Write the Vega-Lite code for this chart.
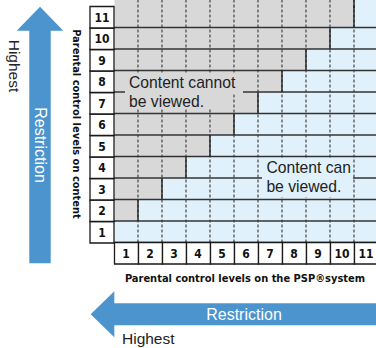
{
  "$schema": "https://vega.github.io/schema/vega-lite/v6.json",
  "width": 376,
  "height": 348,
  "padding": 0,
  "autosize": {"type": "none"},
  "config": {"view": {"stroke": null}, "axis": {"disable": true}, "legend": {"disable": true}},
  "data": {"values": [{}]},
  "datasets": {
    "levels": [{"level":1},{"level":2},{"level":3},{"level":4},{"level":5},{"level":6},{"level":7},{"level":8},{"level":9},{"level":10},{"level":11}],
    "cells": [
      {"s":1,"c":1,"v":"can"},{"s":2,"c":1,"v":"can"},{"s":3,"c":1,"v":"can"},{"s":4,"c":1,"v":"can"},{"s":5,"c":1,"v":"can"},{"s":6,"c":1,"v":"can"},{"s":7,"c":1,"v":"can"},{"s":8,"c":1,"v":"can"},{"s":9,"c":1,"v":"can"},{"s":10,"c":1,"v":"can"},{"s":11,"c":1,"v":"can"},
      {"s":1,"c":2,"v":"cannot"},{"s":2,"c":2,"v":"can"},{"s":3,"c":2,"v":"can"},{"s":4,"c":2,"v":"can"},{"s":5,"c":2,"v":"can"},{"s":6,"c":2,"v":"can"},{"s":7,"c":2,"v":"can"},{"s":8,"c":2,"v":"can"},{"s":9,"c":2,"v":"can"},{"s":10,"c":2,"v":"can"},{"s":11,"c":2,"v":"can"},
      {"s":1,"c":3,"v":"cannot"},{"s":2,"c":3,"v":"cannot"},{"s":3,"c":3,"v":"can"},{"s":4,"c":3,"v":"can"},{"s":5,"c":3,"v":"can"},{"s":6,"c":3,"v":"can"},{"s":7,"c":3,"v":"can"},{"s":8,"c":3,"v":"can"},{"s":9,"c":3,"v":"can"},{"s":10,"c":3,"v":"can"},{"s":11,"c":3,"v":"can"},
      {"s":1,"c":4,"v":"cannot"},{"s":2,"c":4,"v":"cannot"},{"s":3,"c":4,"v":"cannot"},{"s":4,"c":4,"v":"can"},{"s":5,"c":4,"v":"can"},{"s":6,"c":4,"v":"can"},{"s":7,"c":4,"v":"can"},{"s":8,"c":4,"v":"can"},{"s":9,"c":4,"v":"can"},{"s":10,"c":4,"v":"can"},{"s":11,"c":4,"v":"can"},
      {"s":1,"c":5,"v":"cannot"},{"s":2,"c":5,"v":"cannot"},{"s":3,"c":5,"v":"cannot"},{"s":4,"c":5,"v":"cannot"},{"s":5,"c":5,"v":"can"},{"s":6,"c":5,"v":"can"},{"s":7,"c":5,"v":"can"},{"s":8,"c":5,"v":"can"},{"s":9,"c":5,"v":"can"},{"s":10,"c":5,"v":"can"},{"s":11,"c":5,"v":"can"},
      {"s":1,"c":6,"v":"cannot"},{"s":2,"c":6,"v":"cannot"},{"s":3,"c":6,"v":"cannot"},{"s":4,"c":6,"v":"cannot"},{"s":5,"c":6,"v":"cannot"},{"s":6,"c":6,"v":"can"},{"s":7,"c":6,"v":"can"},{"s":8,"c":6,"v":"can"},{"s":9,"c":6,"v":"can"},{"s":10,"c":6,"v":"can"},{"s":11,"c":6,"v":"can"},
      {"s":1,"c":7,"v":"cannot"},{"s":2,"c":7,"v":"cannot"},{"s":3,"c":7,"v":"cannot"},{"s":4,"c":7,"v":"cannot"},{"s":5,"c":7,"v":"cannot"},{"s":6,"c":7,"v":"cannot"},{"s":7,"c":7,"v":"can"},{"s":8,"c":7,"v":"can"},{"s":9,"c":7,"v":"can"},{"s":10,"c":7,"v":"can"},{"s":11,"c":7,"v":"can"},
      {"s":1,"c":8,"v":"cannot"},{"s":2,"c":8,"v":"cannot"},{"s":3,"c":8,"v":"cannot"},{"s":4,"c":8,"v":"cannot"},{"s":5,"c":8,"v":"cannot"},{"s":6,"c":8,"v":"cannot"},{"s":7,"c":8,"v":"cannot"},{"s":8,"c":8,"v":"can"},{"s":9,"c":8,"v":"can"},{"s":10,"c":8,"v":"can"},{"s":11,"c":8,"v":"can"},
      {"s":1,"c":9,"v":"cannot"},{"s":2,"c":9,"v":"cannot"},{"s":3,"c":9,"v":"cannot"},{"s":4,"c":9,"v":"cannot"},{"s":5,"c":9,"v":"cannot"},{"s":6,"c":9,"v":"cannot"},{"s":7,"c":9,"v":"cannot"},{"s":8,"c":9,"v":"cannot"},{"s":9,"c":9,"v":"can"},{"s":10,"c":9,"v":"can"},{"s":11,"c":9,"v":"can"},
      {"s":1,"c":10,"v":"cannot"},{"s":2,"c":10,"v":"cannot"},{"s":3,"c":10,"v":"cannot"},{"s":4,"c":10,"v":"cannot"},{"s":5,"c":10,"v":"cannot"},{"s":6,"c":10,"v":"cannot"},{"s":7,"c":10,"v":"cannot"},{"s":8,"c":10,"v":"cannot"},{"s":9,"c":10,"v":"cannot"},{"s":10,"c":10,"v":"can"},{"s":11,"c":10,"v":"can"},
      {"s":1,"c":11,"v":"cannot"},{"s":2,"c":11,"v":"cannot"},{"s":3,"c":11,"v":"cannot"},{"s":4,"c":11,"v":"cannot"},{"s":5,"c":11,"v":"cannot"},{"s":6,"c":11,"v":"cannot"},{"s":7,"c":11,"v":"cannot"},{"s":8,"c":11,"v":"cannot"},{"s":9,"c":11,"v":"cannot"},{"s":10,"c":11,"v":"cannot"},{"s":11,"c":11,"v":"can"}
    ]
  },
  "layer": [
    {
      "data": {"name": "cells"},
      "mark": {"type": "rect"},
      "encoding": {
        "x": {"field": "s", "type": "quantitative", "bin": {"step": 1, "extent": [-0.5, 11.5], "nice": false}, "scale": {"domain": [-4.25, 11.4167], "nice": false, "zero": false}},
        "y": {"field": "c", "type": "quantitative", "bin": {"step": 1, "extent": [-0.5, 11.5], "nice": false}, "scale": {"domain": [-4.407, 11.779], "nice": false, "zero": false}},
        "color": {"field": "v", "type": "nominal", "scale": {"domain": ["cannot", "can"], "range": ["#d8d8d8", "#e0f1fb"]}}
      }
    },
    {
      "data": {"name": "cells"},
      "transform": [{"filter": "datum.c == 11"}],
      "mark": {"type": "rect"},
      "encoding": {
        "x": {"field": "s", "type": "quantitative", "bin": {"step": 1, "extent": [-0.5, 11.5], "nice": false}, "scale": {"domain": [-4.25, 11.4167], "nice": false, "zero": false}},
        "y": {"datum": 11.4, "type": "quantitative", "scale": {"domain": [-4.407, 11.779], "nice": false, "zero": false}},
        "y2": {"datum": 11.8},
        "color": {"field": "v", "type": "nominal", "scale": {"domain": ["cannot", "can"], "range": ["#d8d8d8", "#e0f1fb"]}}
      }
    },
    {
      "data": {"name": "levels"},
      "mark": {"type": "rule", "yOffset": 10.75, "y2Offset": 10.75, "color": "#333333", "strokeWidth": 1.3},
      "encoding": {
        "y": {"field": "level", "type": "quantitative", "scale": {"domain": [-4.407, 11.779], "nice": false, "zero": false}},
        "x": {"datum": 0.5, "type": "quantitative", "scale": {"domain": [-4.25, 11.4167], "nice": false, "zero": false}},
        "x2": {"datum": 11.5}
      }
    },
    {
      "data": {"name": "levels"},
      "transform": [{"filter": "datum.level <= 10"}],
      "mark": {"type": "rule", "xOffset": 12, "x2Offset": 12, "color": "#333333", "strokeWidth": 1.1, "strokeDash": [3, 2]},
      "encoding": {
        "x": {"field": "level", "type": "quantitative", "scale": {"domain": [-4.25, 11.4167], "nice": false, "zero": false}},
        "y": {"datum": 0.5, "type": "quantitative", "scale": {"domain": [-4.407, 11.779], "nice": false, "zero": false}},
        "y2": {"datum": 11.8}
      }
    },
    {
      "data": {"name": "levels"},
      "transform": [{"filter": "datum.level >= 2"}],
      "mark": {"type": "rule", "xOffset": -12, "x2Offset": -12, "yOffset": 10.75, "y2Offset": -10.75, "color": "#222222", "strokeWidth": 1.4},
      "encoding": {
        "x": {"field": "level", "type": "quantitative", "scale": {"domain": [-4.25, 11.4167], "nice": false, "zero": false}},
        "y": {"field": "level", "type": "quantitative", "scale": {"domain": [-4.407, 11.779], "nice": false, "zero": false}},
        "y2": {"field": "level"}
      }
    },
    {
      "data": {"name": "levels"},
      "transform": [{"filter": "datum.level == 11"}],
      "mark": {"type": "rule", "xOffset": -12, "x2Offset": -12, "color": "#222222", "strokeWidth": 1.4},
      "encoding": {
        "x": {"field": "level", "type": "quantitative", "scale": {"domain": [-4.25, 11.4167], "nice": false, "zero": false}},
        "y": {"datum": 11.4, "type": "quantitative", "scale": {"domain": [-4.407, 11.779], "nice": false, "zero": false}},
        "y2": {"datum": 11.8}
      }
    },
    {
      "data": {"name": "levels"},
      "mark": {"type": "rect", "fill": "#ffffff", "stroke": "#1a1a1a", "strokeWidth": 1.3},
      "encoding": {
        "x": {"datum": -0.5, "type": "quantitative", "scale": {"domain": [-4.25, 11.4167], "nice": false, "zero": false}},
        "x2": {"datum": 0.5},
        "y": {"field": "level", "type": "quantitative", "bin": {"step": 1, "extent": [-0.5, 11.5], "nice": false}, "scale": {"domain": [-4.407, 11.779], "nice": false, "zero": false}}
      }
    },
    {
      "data": {"name": "levels"},
      "mark": {"type": "rect", "fill": "#ffffff", "stroke": "#1a1a1a", "strokeWidth": 1.3},
      "encoding": {
        "x": {"field": "level", "type": "quantitative", "bin": {"step": 1, "extent": [-0.5, 11.5], "nice": false}, "scale": {"domain": [-4.25, 11.4167], "nice": false, "zero": false}},
        "y": {"datum": -0.5, "type": "quantitative", "scale": {"domain": [-4.407, 11.779], "nice": false, "zero": false}},
        "y2": {"datum": 0.5}
      }
    },
    {
      "data": {"name": "levels"},
      "mark": {"type": "text", "font": "DejaVu Sans Condensed, Liberation Sans, sans-serif", "fontWeight": "bold", "fontSize": 12, "align": "center", "baseline": "middle", "color": "#111111", "dy": 1},
      "encoding": {
        "x": {"datum": 0, "type": "quantitative", "scale": {"domain": [-4.25, 11.4167], "nice": false, "zero": false}},
        "y": {"field": "level", "type": "quantitative", "scale": {"domain": [-4.407, 11.779], "nice": false, "zero": false}},
        "text": {"field": "level", "type": "quantitative"}
      }
    },
    {
      "data": {"name": "levels"},
      "mark": {"type": "text", "font": "DejaVu Sans Condensed, Liberation Sans, sans-serif", "fontWeight": "bold", "fontSize": 12, "align": "center", "baseline": "middle", "color": "#111111", "dy": 1},
      "encoding": {
        "x": {"field": "level", "type": "quantitative", "scale": {"domain": [-4.25, 11.4167], "nice": false, "zero": false}},
        "y": {"datum": 0, "type": "quantitative", "scale": {"domain": [-4.407, 11.779], "nice": false, "zero": false}},
        "text": {"field": "level", "type": "quantitative"}
      }
    },
    {
      "mark": {"type": "rect", "fill": "#d8d8d8"},
      "encoding": {
        "x": {"datum": 0.958, "type": "quantitative", "scale": {"domain": [-4.25, 11.4167], "nice": false, "zero": false}},
        "x2": {"datum": 5.875},
        "y": {"datum": 8.384, "type": "quantitative", "scale": {"domain": [-4.407, 11.779], "nice": false, "zero": false}},
        "y2": {"datum": 7.453}
      }
    },
    {
      "mark": {"type": "rect", "fill": "#d8d8d8"},
      "encoding": {
        "x": {"datum": 0.958, "type": "quantitative", "scale": {"domain": [-4.25, 11.4167], "nice": false, "zero": false}},
        "x2": {"datum": 5.333},
        "y": {"datum": 7.5, "type": "quantitative", "scale": {"domain": [-4.407, 11.779], "nice": false, "zero": false}},
        "y2": {"datum": 6.709}
      }
    },
    {
      "mark": {"type": "rect", "fill": "#e0f1fb"},
      "encoding": {
        "x": {"datum": 6.667, "type": "quantitative", "scale": {"domain": [-4.25, 11.4167], "nice": false, "zero": false}},
        "x2": {"datum": 10.458},
        "y": {"datum": 4.43, "type": "quantitative", "scale": {"domain": [-4.407, 11.779], "nice": false, "zero": false}},
        "y2": {"datum": 3.45}
      }
    },
    {
      "mark": {"type": "rect", "fill": "#e0f1fb"},
      "encoding": {
        "x": {"datum": 6.667, "type": "quantitative", "scale": {"domain": [-4.25, 11.4167], "nice": false, "zero": false}},
        "x2": {"datum": 10.125},
        "y": {"datum": 3.55, "type": "quantitative", "scale": {"domain": [-4.407, 11.779], "nice": false, "zero": false}},
        "y2": {"datum": 2.616}
      }
    },
    {
      "mark": {"type": "text", "text": ["Content cannot", "be viewed."], "font": "Liberation Sans", "fontSize": 15.7, "lineHeight": 19, "align": "left", "baseline": "alphabetic", "color": "#222222"},
      "encoding": {
        "x": {"datum": 1.125, "type": "quantitative", "scale": {"domain": [-4.25, 11.4167], "nice": false, "zero": false}},
        "y": {"datum": 7.686, "type": "quantitative", "scale": {"domain": [-4.407, 11.779], "nice": false, "zero": false}}
      }
    },
    {
      "mark": {"type": "text", "text": ["Content can", "be viewed."], "font": "Liberation Sans", "fontSize": 15.7, "lineHeight": 19, "align": "left", "baseline": "alphabetic", "color": "#222222"},
      "encoding": {
        "x": {"datum": 6.85, "type": "quantitative", "scale": {"domain": [-4.25, 11.4167], "nice": false, "zero": false}},
        "y": {"datum": 3.733, "type": "quantitative", "scale": {"domain": [-4.407, 11.779], "nice": false, "zero": false}}
      }
    },
    {
      "mark": {"type": "text", "text": "Parental control levels on content", "font": "DejaVu Sans Condensed, Liberation Sans, sans-serif", "fontWeight": "bold", "fontSize": 11, "angle": 90, "align": "center", "baseline": "middle", "color": "#111111"},
      "encoding": {
        "x": {"datum": -1.083, "type": "quantitative", "scale": {"domain": [-4.25, 11.4167], "nice": false, "zero": false}},
        "y": {"datum": 6.012, "type": "quantitative", "scale": {"domain": [-4.407, 11.779], "nice": false, "zero": false}}
      }
    },
    {
      "mark": {"type": "text", "text": "Parental control levels on the PSP®system", "font": "DejaVu Sans Condensed, Liberation Sans, sans-serif", "fontWeight": "bold", "fontSize": 11, "align": "center", "baseline": "alphabetic", "color": "#111111"},
      "encoding": {
        "x": {"datum": 5.958, "type": "quantitative", "scale": {"domain": [-4.25, 11.4167], "nice": false, "zero": false}},
        "y": {"datum": -1.337, "type": "quantitative", "scale": {"domain": [-4.407, 11.779], "nice": false, "zero": false}}
      }
    },
    {
      "mark": {"type": "rect", "fill": "#4b94cd"},
      "encoding": {
        "x": {"datum": -3.029, "type": "quantitative", "scale": {"domain": [-4.25, 11.4167], "nice": false, "zero": false}},
        "x2": {"datum": -2.1375},
        "y": {"datum": -0.467, "type": "quantitative", "scale": {"domain": [-4.407, 11.779], "nice": false, "zero": false}},
        "y2": {"datum": 10.4}
      }
    },
    {
      "mark": {"type": "point", "shape": "M-23.3,0L0,-24L23.3,0Z", "size": 4, "filled": true, "opacity": 1, "fill": "#4b94cd", "strokeWidth": 0},
      "encoding": {
        "x": {"datum": -2.583, "type": "quantitative", "scale": {"domain": [-4.25, 11.4167], "nice": false, "zero": false}},
        "y": {"datum": 10.351, "type": "quantitative", "scale": {"domain": [-4.407, 11.779], "nice": false, "zero": false}}
      }
    },
    {
      "mark": {"type": "rect", "fill": "#4b94cd"},
      "encoding": {
        "x": {"datum": 0.48, "type": "quantitative", "scale": {"domain": [-4.25, 11.4167], "nice": false, "zero": false}},
        "x2": {"datum": 11.5},
        "y": {"datum": -2.328, "type": "quantitative", "scale": {"domain": [-4.407, 11.779], "nice": false, "zero": false}},
        "y2": {"datum": -3.351}
      }
    },
    {
      "mark": {"type": "point", "shape": "M0,-23L-23.6,0L0,23Z", "size": 4, "filled": true, "opacity": 1, "fill": "#4b94cd", "strokeWidth": 0},
      "encoding": {
        "x": {"datum": 0.5125, "type": "quantitative", "scale": {"domain": [-4.25, 11.4167], "nice": false, "zero": false}},
        "y": {"datum": -2.84, "type": "quantitative", "scale": {"domain": [-4.407, 11.779], "nice": false, "zero": false}}
      }
    },
    {
      "mark": {"type": "text", "text": "Restriction", "font": "Liberation Sans", "fontSize": 16, "angle": 90, "align": "center", "baseline": "middle", "color": "#ffffff"},
      "encoding": {
        "x": {"datum": -2.583, "type": "quantitative", "scale": {"domain": [-4.25, 11.4167], "nice": false, "zero": false}},
        "y": {"datum": 5.035, "type": "quantitative", "scale": {"domain": [-4.407, 11.779], "nice": false, "zero": false}}
      }
    },
    {
      "mark": {"type": "text", "text": "Highest", "font": "Liberation Sans", "fontSize": 15.5, "angle": 90, "align": "center", "baseline": "middle", "color": "#222222"},
      "encoding": {
        "x": {"datum": -3.646, "type": "quantitative", "scale": {"domain": [-4.25, 11.4167], "nice": false, "zero": false}},
        "y": {"datum": 8.709, "type": "quantitative", "scale": {"domain": [-4.407, 11.779], "nice": false, "zero": false}}
      }
    },
    {
      "mark": {"type": "text", "text": "Restriction", "font": "Liberation Sans", "fontSize": 16, "align": "center", "baseline": "middle", "color": "#ffffff"},
      "encoding": {
        "x": {"datum": 5.917, "type": "quantitative", "scale": {"domain": [-4.25, 11.4167], "nice": false, "zero": false}},
        "y": {"datum": -2.849, "type": "quantitative", "scale": {"domain": [-4.407, 11.779], "nice": false, "zero": false}}
      }
    },
    {
      "mark": {"type": "text", "text": "Highest", "font": "Liberation Sans", "fontSize": 15.5, "align": "left", "baseline": "alphabetic", "color": "#222222"},
      "encoding": {
        "x": {"datum": 0.833, "type": "quantitative", "scale": {"domain": [-4.25, 11.4167], "nice": false, "zero": false}},
        "y": {"datum": -4.221, "type": "quantitative", "scale": {"domain": [-4.407, 11.779], "nice": false, "zero": false}}
      }
    }
  ]
}
